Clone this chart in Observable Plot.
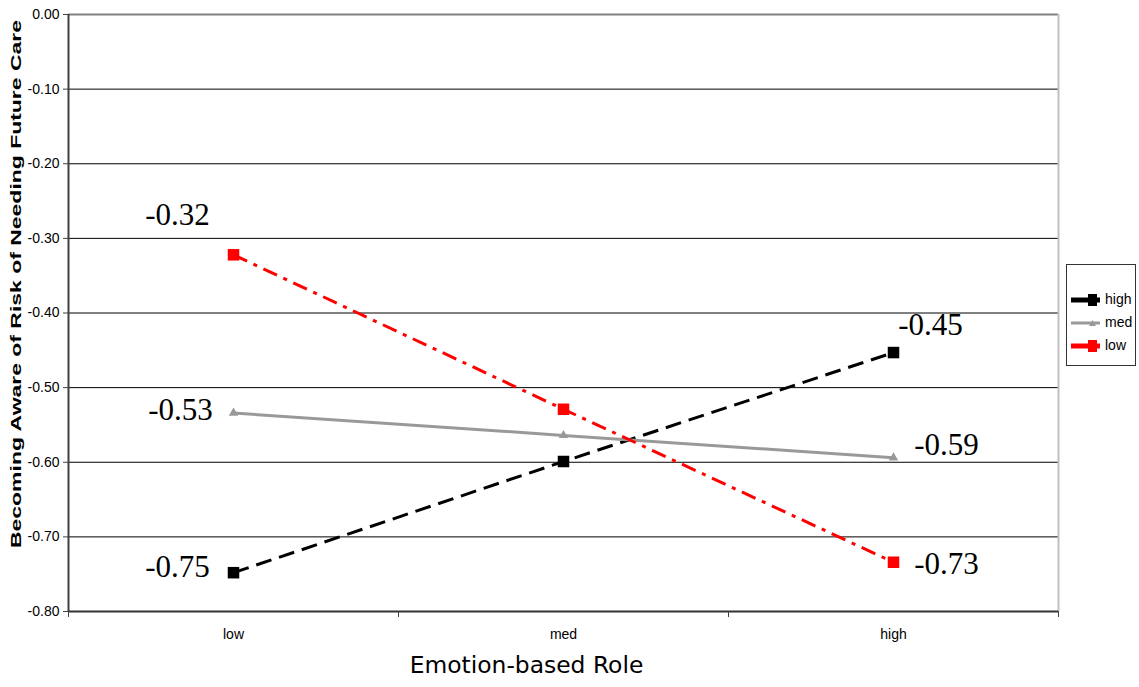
<!DOCTYPE html>
<html><head><meta charset="utf-8">
<script src="https://cdn.jsdelivr.net/npm/d3@7"></script>
<script src="https://cdn.jsdelivr.net/npm/@observablehq/plot@0.6"></script>
<style>
body{margin:0;background:#fff;}
#wrap{position:relative;width:1139px;height:687px;overflow:hidden;}
#legend{position:absolute;left:1066px;top:264px;width:70px;height:102px;border:1px solid #333;box-sizing:border-box;background:#fff;font-family:"Liberation Sans Narrow","Liberation Sans",Arial,sans-serif;font-size:14px;color:#000;}
.lrow{position:absolute;left:3px;height:14px;}
.lrow svg{position:absolute;left:0;top:0;}
.lrow span{position:absolute;left:35px;top:-2px;white-space:nowrap;}
</style></head><body>
<div id="wrap"><div id="chart"></div><div id="legend"></div></div>
<script>
// ---- data ----
const categories = ["low", "med", "high"];
const seriesNames = ["high", "med", "low"];
const highValues = [-0.748, -0.599, -0.453];
const medValues  = [-0.534, -0.564, -0.594];
const lowValues  = [-0.322, -0.529, -0.734];
const yTicks = [0, -0.1, -0.2, -0.3, -0.4, -0.5, -0.6, -0.7, -0.8];
const xTitle = "Emotion-based Role";
const yTitle = "Becoming Aware of Risk of Needing Future Care";
const labelledCategories = ["low", "high"];

// ---- styles ----
const styles = {
  high: {stroke: "#000000", dash: "16,8", symbol: "square", r: 6.5},
  med:  {stroke: "#999999", dash: null, symbol: "triangle", r: 3.5},
  low:  {stroke: "#ff0000", dash: "15,7,4,7", symbol: "square", r: 6.5}
};
const labelOffsets = {
  high: {low: [-56, -6], high: [37, -27]},
  med:  {low: [-53, -3], high: [53, -13]},
  low:  {low: [-56, -40], high: [53, 2]}
};

const valuesBySeries = {high: highValues, med: medValues, low: lowValues};
const data = seriesNames.flatMap(s => categories.map((c, i) => ({series: s, category: c, ci: i, value: valuesBySeries[s][i]})));
const xPos = d => d.ci + 0.5;
const fmt = v => v.toFixed(2);
const sansNarrow = '"Liberation Sans Narrow","Liberation Sans",Arial,sans-serif';

const marks = [];
// grid lines and frame
marks.push(Plot.ruleY(yTicks.filter(t => t !== 0 && t !== -0.8), {stroke: "#000", strokeWidth: 1}));
marks.push(Plot.ruleY([0], {stroke: "#808080", strokeWidth: 2}));
marks.push(Plot.ruleX([categories.length], {stroke: "#c0c0c0", strokeWidth: 2}));
marks.push(Plot.ruleX([0], {stroke: "#404040", strokeWidth: 2}));
marks.push(Plot.ruleY([-0.8], {stroke: "#333", strokeWidth: 2}));
// axes
marks.push(Plot.axisY({ticks: yTicks, tickFormat: fmt, tickSize: 5, tickPadding: 4, stroke: "#404040", fontSize: 14, fontFamily: sansNarrow, label: null}));
marks.push(Plot.axisX({ticks: d3.range(categories.length + 1), tickFormat: () => "", tickSize: 6, stroke: "#404040", label: null}));
marks.push(Plot.axisX({ticks: categories.map((c, i) => i + 0.5), tickFormat: d => categories[Math.floor(d)], tickSize: 0, tickPadding: 18, fontSize: 14, fontFamily: sansNarrow, label: null}));
// lines, markers and data labels
for (const s of seriesNames) {
  const st = styles[s];
  const sd = data.filter(d => d.series === s);
  marks.push(Plot.line(sd, {x: xPos, y: "value", stroke: st.stroke, strokeWidth: 3, strokeDasharray: st.dash, strokeLinecap: "butt"}));
  marks.push(Plot.dot(sd, {x: xPos, y: "value", symbol: st.symbol, r: st.r, fill: st.stroke, stroke: "none"}));
  for (const c of labelledCategories) {
    const [dx, dy] = labelOffsets[s][c];
    marks.push(Plot.text(sd.filter(d => d.category === c), {x: xPos, y: "value", text: d => fmt(d.value), dx, dy, fontSize: 31, fontFamily: '"Liberation Serif","Times New Roman",serif', fill: "#000"}));
  }
}
// titles
marks.push(Plot.text([xTitle], {frameAnchor: "bottom", dx: -37, dy: 61, fontSize: 23.4, fontFamily: '"DejaVu Sans",Verdana,sans-serif', fill: "#000"}));
marks.push(Plot.text([yTitle], {frameAnchor: "left", rotate: -90, textAnchor: "start", dx: -52, dy: 235, fontSize: 15, fontWeight: "bold", fontFamily: '"Liberation Sans",Arial,sans-serif', fill: "#000", className: "ytitle"}));

const svg = Plot.plot({
  width: 1139, height: 687,
  marginLeft: 68, marginRight: 81, marginTop: 14, marginBottom: 76,
  x: {type: "linear", domain: [0, categories.length], axis: null},
  y: {type: "linear", domain: [-0.8, 0], axis: null},
  style: {background: "#fff", fontFamily: sansNarrow, fontSize: "14px", color: "#000"},
  marks
});
d3.select(svg).selectAll(".ytitle text").attr("textLength", 528).attr("lengthAdjust", "spacingAndGlyphs");
document.getElementById("chart").appendChild(svg);

// legend
const legend = document.getElementById("legend");
seriesNames.forEach((s, i) => {
  const st = styles[s];
  const row = document.createElement("div");
  row.className = "lrow";
  row.style.top = (28 + i * 23) + "px";
  const thick = s === "med" ? 3 : 5;
  const marker = st.symbol === "square"
    ? `<rect x="18" y="1" width="9" height="12" fill="${st.stroke}"/>`
    : `<path d="M22.5,4 L26,10 L19,10 Z" fill="${st.stroke}"/>`;
  row.innerHTML = `<svg width="34" height="14"><line x1="1" x2="30" y1="7" y2="7" stroke="${st.stroke}" stroke-width="${thick}"/>${marker}</svg><span>${s}</span>`;
  legend.appendChild(row);
});
</script>
</body></html>
